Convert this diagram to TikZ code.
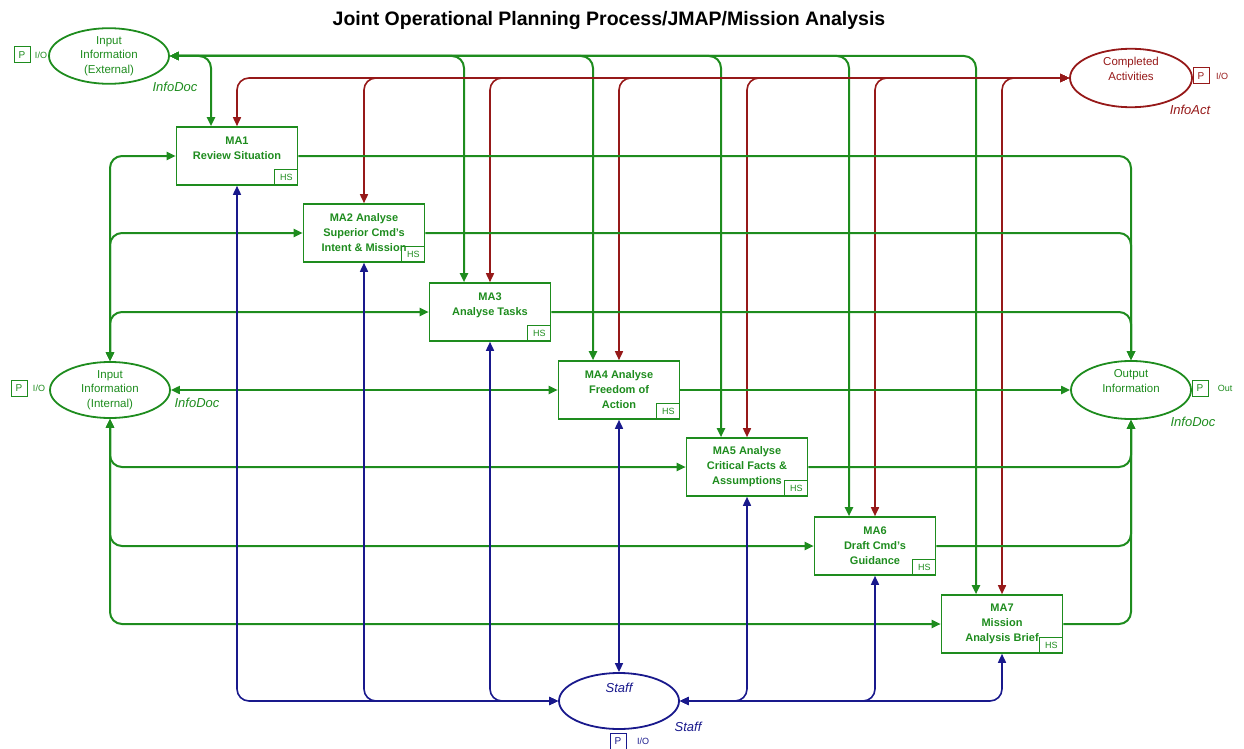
\documentclass[tikz,border=0pt]{standalone}
\usepackage{fontspec}
\setmainfont{Liberation Sans}
\usepackage{tikz}
\usetikzlibrary{shapes.geometric}
\usetikzlibrary{arrows.meta}

\definecolor{netgreen}{RGB}{30,140,30}
\definecolor{netred}{RGB}{150,25,25}
\definecolor{netblue}{RGB}{25,25,140}

\tikzset{
  trans/.style={draw=netgreen, text=netgreen, line width=1.6pt, minimum width=121pt,
    minimum height=58pt, inner sep=0pt, align=center, font=\bfseries\fontsize{11}{15}\selectfont},
  hsbox/.style={draw=netgreen, text=netgreen, line width=1.1pt, minimum width=23pt,
    minimum height=16pt, inner sep=0pt, anchor=south east, font=\fontsize{9}{9}\selectfont},
  place/.style={ellipse, line width=1.8pt, minimum width=120pt, minimum height=56pt,
    inner sep=0pt, align=center, font=\fontsize{11.5}{14.5}\selectfont},
  pbox/.style={draw, line width=1pt, minimum size=16pt, inner sep=0pt, font=\fontsize{10}{10}\selectfont},
  ptype/.style={font=\fontsize{9}{9}\selectfont},
  colset/.style={font=\itshape\fontsize{13}{13}\selectfont},
  garc/.style={draw=netgreen, line width=2pt, rounded corners=12pt},
  rarc/.style={draw=netred, line width=1.6pt, rounded corners=12pt},
  barc/.style={draw=netblue, line width=1.6pt, rounded corners=12pt}
}

\begin{document}
\begin{tikzpicture}[x=1pt,y=-1pt,>={Triangle[length=9pt,width=8pt]}]
\useasboundingbox (0,0) rectangle (1244,749);
\node[font=\bfseries\fontsize{19.5}{19.5}\selectfont] (title) at (609,21) {Joint Operational Planning Process/JMAP/Mission Analysis};

% places
\node[place, draw=netgreen, text=netgreen, minimum height=52pt] (inext) at (109,56) {Input\\Information\\(External)};
\node[place, draw=netred, text=netred, minimum width=122pt] (compl) at (1131,78) {Completed\\Activities\\[4pt]};
\node[place, draw=netgreen, text=netgreen] (inint) at (110,390) {Input\\Information\\(Internal)};
\node[place, draw=netgreen, text=netgreen, minimum height=58pt] (outinf) at (1131,390) {Output\\Information\\[4pt]};
\node[place, draw=netblue, text=netblue,
      label={[colset, text=netblue, anchor=north, yshift=-7pt]north:Staff}] (staff) at (619,701) {};

% port and colour set marks
\node[pbox, draw=netgreen, text=netgreen] (inextp) at (22,55) {P};
\node[ptype, text=netgreen] (inexti) at (41,55) {I/O};
\node[colset, text=netgreen] (inextc) at (175,87) {InfoDoc};
\node[pbox, draw=netred, text=netred] (complp) at (1201,76) {P};
\node[ptype, text=netred] (compli) at (1222,76) {I/O};
\node[colset, text=netred] (complc) at (1190,110) {InfoAct};
\node[pbox, draw=netgreen, text=netgreen] (inintp) at (19,388) {P};
\node[ptype, text=netgreen] (ininti) at (39,388) {I/O};
\node[colset, text=netgreen] (inintc) at (197,403) {InfoDoc};
\node[pbox, draw=netgreen, text=netgreen] (outinfp) at (1200,388) {P};
\node[ptype, text=netgreen] (outinfo) at (1225,388) {Out};
\node[colset, text=netgreen] (outinfc) at (1193,422) {InfoDoc};
\node[pbox, draw=netblue, text=netblue] (staffp) at (618,741) {P};
\node[ptype, text=netblue] (staffi) at (643,741) {I/O};
\node[colset, text=netblue] (staffc) at (688,727) {Staff};

% transitions
\node[trans] (ma1) at (237,156) {MA1\\Review Situation\\~};
\node[trans] (ma2) at (364,233) {MA2 Analyse\\Superior Cmd's\\Intent \& Mission};
\node[trans] (ma3) at (490,312) {MA3\\Analyse Tasks\\~};
\node[trans] (ma4) at (619,390) {MA4 Analyse\\Freedom of\\Action};
\node[trans] (ma5) at (747,467) {MA5 Analyse\\Critical Facts \&\\Assumptions};
\node[trans] (ma6) at (875,546) {MA6\\Draft Cmd's\\Guidance};
\node[trans] (ma7) at (1002,624) {MA7\\Mission\\Analysis Brief};
\node[hsbox] (ma1hs) at (ma1.south east) {HS};
\node[hsbox] (ma2hs) at (ma2.south east) {HS};
\node[hsbox] (ma3hs) at (ma3.south east) {HS};
\node[hsbox] (ma4hs) at (ma4.south east) {HS};
\node[hsbox] (ma5hs) at (ma5.south east) {HS};
\node[hsbox] (ma6hs) at (ma6.south east) {HS};
\node[hsbox] (ma7hs) at (ma7.south east) {HS};

% external information
\draw[garc,<->] (inext.east) -| ([xshift=-26pt]ma1.north);
\draw[garc,<->] (inext.east) -| ([xshift=-26pt]ma3.north);
\draw[garc,<->] (inext.east) -| ([xshift=-26pt]ma4.north);
\draw[garc,<->] (inext.east) -| ([xshift=-26pt]ma5.north);
\draw[garc,<->] (inext.east) -| ([xshift=-26pt]ma6.north);
\draw[garc,<->] (inext.east) -| ([xshift=-26pt]ma7.north);

% completed activities
\draw[rarc,<->] (compl.west) -| (ma1.north);
\draw[rarc,<->] (compl.west) -| (ma2.north);
\draw[rarc,<->] (compl.west) -| (ma3.north);
\draw[rarc,<->] (compl.west) -| (ma4.north);
\draw[rarc,<->] (compl.west) -| (ma5.north);
\draw[rarc,<->] (compl.west) -| (ma6.north);
\draw[rarc,<->] (compl.west) -| (ma7.north);

% internal information
\draw[garc,<->] (inint.north) |- (ma1.west);
\draw[garc,<->] (inint.north) |- (ma2.west);
\draw[garc,<->] (inint.north) |- (ma3.west);
\draw[garc,<->] (inint.east) -- (ma4.west);
\draw[garc,<->] (inint.south) |- (ma5.west);
\draw[garc,<->] (inint.south) |- (ma6.west);
\draw[garc,<->] (inint.south) |- (ma7.west);

% output information
\draw[garc,->] (ma1.east) -| (outinf.north);
\draw[garc,->] (ma2.east) -| (outinf.north);
\draw[garc,->] (ma3.east) -| (outinf.north);
\draw[garc,->] (ma4.east) -- (outinf.west);
\draw[garc,->] (ma5.east) -| (outinf.south);
\draw[garc,->] (ma6.east) -| (outinf.south);
\draw[garc,->] (ma7.east) -| (outinf.south);

% staff
\draw[barc,<->] (staff.west) -| (ma1.south);
\draw[barc,<->] (staff.west) -| (ma2.south);
\draw[barc,<->] (staff.west) -| (ma3.south);
\draw[barc,<->] (staff.north) -- (ma4.south);
\draw[barc,<->] (staff.east) -| (ma5.south);
\draw[barc,<->] (staff.east) -| (ma6.south);
\draw[barc,<->] (staff.east) -| (ma7.south);
\end{tikzpicture}
\end{document}
